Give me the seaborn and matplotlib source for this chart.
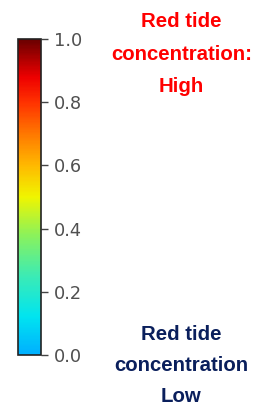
import numpy as np
import matplotlib
matplotlib.use("Agg")
import matplotlib.pyplot as plt
from matplotlib.colors import LinearSegmentedColormap
import seaborn as sns

# data
value_range = [[0.0, 1.0]]
tick_values = [0.0, 0.2, 0.4, 0.6, 0.8, 1.0]
tick_labels = ["0.0", "0.2", "0.4", "0.6", "0.8", "1.0"]
high_lines = ["Red tide", "concentration:", "High"]
low_lines = ["Red tide", "concentration", "Low"]

sns.set_style("white")
W, H = 271, 407
fig = plt.figure(figsize=(W / 100, H / 100), dpi=100)

cmap_nodes = [
    (0.00, (0 / 255, 175 / 255, 255 / 255)),
    (0.12, (0 / 255, 228 / 255, 240 / 255)),
    (0.25, (60 / 255, 235 / 255, 180 / 255)),
    (0.38, (140 / 255, 242 / 255, 90 / 255)),
    (0.50, (240 / 255, 245 / 255, 0 / 255)),
    (0.60, (255 / 255, 185 / 255, 0 / 255)),
    (0.70, (255 / 255, 120 / 255, 0 / 255)),
    (0.80, (255 / 255, 50 / 255, 0 / 255)),
    (0.88, (238 / 255, 0 / 255, 0 / 255)),
    (1.00, (105 / 255, 0 / 255, 0 / 255)),
]
cmap = LinearSegmentedColormap.from_list("redtide", cmap_nodes, N=256)

hidden_ax = fig.add_axes([0.9, 0.5, 0.01, 0.01])
cbar_ax = fig.add_axes([18 / W, (H - 355) / H, 23 / W, (355 - 39) / H])
sns.heatmap(np.array(value_range), ax=hidden_ax, cmap=cmap, vmin=0, vmax=1,
            cbar=True, cbar_ax=cbar_ax,
            cbar_kws={"ticks": tick_values})
hidden_ax.set_visible(False)

cbar = hidden_ax.collections[0].colorbar
cbar.set_ticks(tick_values)
cbar.set_ticklabels(tick_labels)
cbar.outline.set_visible(True)
cbar.outline.set_edgecolor("#222222")
cbar.outline.set_linewidth(1.2)
cbar_ax.tick_params(axis="y", right=True, length=5, width=1.0, color="#444444",
                    labelsize=12.8, labelcolor="#505050", pad=4.4)

def put_lines(lines, ys, color):
    for line, y in zip(lines, ys):
        fig.text(181.5 / W, 1 - y / H, line, ha="center", va="baseline",
                 color=color, fontsize=14.7, fontweight="bold",
                 family="Liberation Sans")

put_lines(high_lines, [27, 59.5, 92], "#FF0000")
put_lines(low_lines, [340, 371, 401.5], "#0A1F5C")

fig.savefig("out.png", dpi=100)
